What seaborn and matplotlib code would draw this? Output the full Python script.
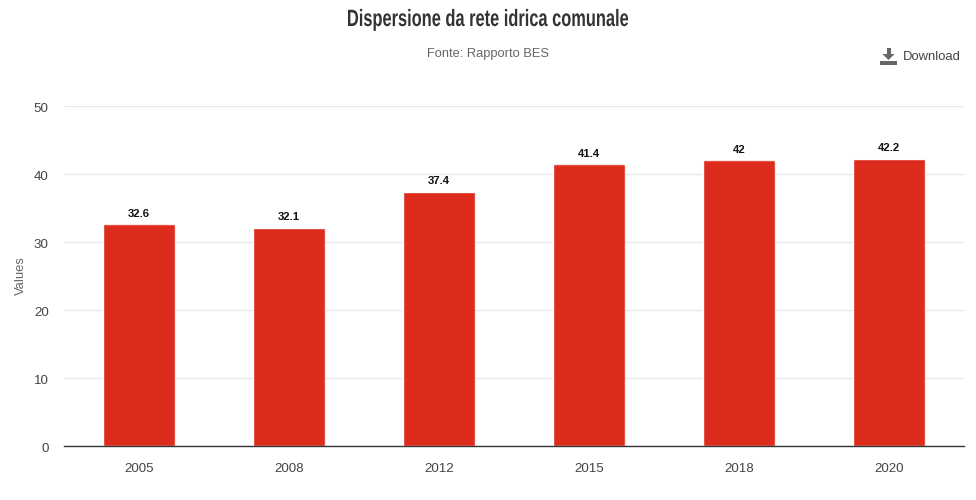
import matplotlib
matplotlib.use("Agg")
import matplotlib.pyplot as plt
import seaborn as sns
import pandas as pd
from matplotlib.patches import FancyBboxPatch, Polygon, Rectangle
from matplotlib.patheffects import AbstractPathEffect
from matplotlib.transforms import IdentityTransform, Affine2D, ScaledTranslation

years = ["2005", "2008", "2012", "2015", "2018", "2020"]
values = [32.6, 32.1, 37.4, 41.4, 42, 42.2]
labels = ["32.6", "32.1", "37.4", "41.4", "42", "42.2"]
yticks = [0, 10, 20, 30, 40, 50]

sns.set_theme(style="white")
plt.rcParams["font.family"] = ["Liberation Sans", "DejaVu Sans"]


class Condense(AbstractPathEffect):
    """Narrows a text horizontally around a pixel position; the text stays real text."""
    def __init__(self, cx, factor):
        super().__init__()
        self.cx, self.factor = cx, factor

    def draw_path(self, renderer, gc, tpath, affine, rgbFace=None):
        squeeze = Affine2D().translate(-self.cx, 0).scale(self.factor, 1).translate(self.cx, 0)
        renderer.draw_path(gc, tpath, affine + squeeze, rgbFace)


W, H = 976, 500
fig = plt.figure(figsize=(W / 100, H / 100), dpi=100)
ax = fig.add_axes([64 / W, 1 - 446 / H, 900 / W, 340 / H])
df = pd.DataFrame({"year": years, "value": values})
sns.barplot(data=df, x="year", y="value", color="#dd2b1c", saturation=1, width=0.485, ax=ax, zorder=3)
ax.set_xlim(-0.5, 5.5)
ax.set_ylim(0, 50)
ax.set_yticks(yticks)
ax.set_xlabel("")
ax.set_ylabel("")
ax.grid(axis="y", color="#e9e9e9", lw=1)
ax.grid(axis="x", visible=False)
ax.set_axisbelow(True)
for s in ["top", "right", "left"]:
    ax.spines[s].set_visible(False)
ax.spines["bottom"].set_color("#333333")
ax.spines["bottom"].set_linewidth(1)
ax.spines["bottom"].set_zorder(5)
ax.tick_params(axis="x", length=0, pad=12.5, labelsize=9.6, labelcolor="#444444")
ax.tick_params(axis="y", length=0, pad=11, labelsize=9.6, labelcolor="#444444")
for t in ax.get_yticklabels():
    t.set_transform(t.get_transform() + ScaledTranslation(0, -1 / 100, fig.dpi_scale_trans))

fig.canvas.draw()
for bar, txt in zip(ax.patches, labels):
    bb = bar.get_window_extent()
    clip = FancyBboxPatch((bb.x0, bb.y0 - 6), bb.width, bb.height + 6,
                          boxstyle="round,pad=0,rounding_size=2.5", transform=IdentityTransform())
    bar.set_clip_path(clip)
    ax.annotate(txt, (bar.get_x() + bar.get_width() / 2, bar.get_height()), xytext=(0, 4),
                textcoords="offset points", ha="center", va="bottom", fontsize=8.2,
                fontweight="bold", color="#111111", zorder=6)

title = fig.text(488 / W, 1 - 26 / H, "Dispersione da rete idrica comunale", ha="center", va="baseline",
                 fontweight="bold", fontsize=17, color="#333333")
title.set_path_effects([Condense(488, 0.695)])
fig.text(488 / W, 1 - 54 / H, "Fonte: Rapporto BES", ha="center", va="center", fontsize=9.3, color="#666666")
fig.text(903 / W, 1 - 57.5 / H, "Download", ha="left", va="center", fontsize=9.4, color="#444444")
fig.text(20.5 / W, 1 - 276 / H, "Values", rotation=90, ha="center", va="center", fontsize=9.4, color="#666666")

# download icon
icon = "#666666"
tr = IdentityTransform()
fig.add_artist(Rectangle((880, H - 65), 17, 4, color=icon, transform=tr, lw=0))
fig.add_artist(Rectangle((886.5, H - 55), 4, 7, color=icon, transform=tr, lw=0))
fig.add_artist(Polygon([(882.5, H - 54), (894.5, H - 54), (888.5, H - 60)], color=icon, transform=tr, lw=0))

fig.savefig("out.png", dpi=100)
